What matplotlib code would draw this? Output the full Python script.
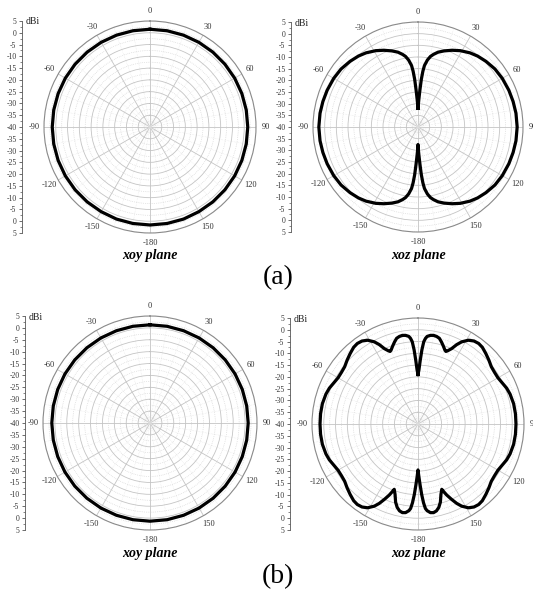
import numpy as np
import matplotlib
matplotlib.use("Agg")
from matplotlib import pyplot as plt
from matplotlib.ticker import MultipleLocator, FixedLocator

plt.rcParams["font.family"] = ["Liberation Serif", "DejaVu Serif"]

W, H = 533, 591

theta_ticks = [0, 30, 60, 90, 120, 150, 180, 210, 240, 270, 300, 330]
theta_labels = ["0", "30", "60", "90", "120", "150", "-180",
                "-150", "-120", "-90", "-60", "-30"]

# xoy plane, (a) and (b): gain in dBi every 10 degrees, 0..360
xoy_deg = list(range(0, 361, 10))
xoy_a_gain = [1.5, 1.5, 1.5, 1.5, 1.5, 1.5, 1.5, 1.5, 1.5, 1.5,
              1.5, 1.5, 1.5, 1.5, 1.5, 1.5, 1.6, 1.6, 1.6, 1.6,
              1.6, 1.5, 1.5, 1.5, 1.5, 1.5, 1.5, 1.5, 1.5, 1.5,
              1.5, 1.5, 1.5, 1.5, 1.5, 1.5, 1.5]
xoy_b_gain = [1.3, 1.3, 1.3, 1.3, 1.3, 1.3, 1.3, 1.3, 1.3, 1.3,
              1.3, 1.3, 1.3, 1.3, 1.3, 1.3, 1.3, 1.3, 1.3, 1.3,
              1.3, 1.3, 1.3, 1.3, 1.3, 1.3, 1.3, 1.3, 1.3, 1.3,
              1.3, 1.3, 1.3, 1.3, 1.3, 1.3, 1.3]

# xoz plane (a): right half 0..180 deg, left half is the mirror
xoz_a_deg = [0, 1, 2, 3, 4, 5, 6, 8, 10, 12, 15, 19, 24, 29, 35, 40, 46, 53,
             60, 68, 75, 82, 90, 98, 105, 112, 120, 127, 134, 140, 145, 151,
             156, 161, 165, 168, 170, 172, 174, 175, 176, 177, 178, 179, 180]
xoz_a_gain = [-32, -30, -27.5, -24, -19.5, -16, -13.5, -11, -9.3, -8.2, -6.8,
              -5.5, -4, -2.6, -1.2, -0.3, 0.5, 1.3, 1.7, 2.0, 2.2, 2.4, 2.5,
              2.4, 2.2, 2.0, 1.7, 1.3, 0.5, -0.3, -1.2, -2.6, -4, -5.5, -6.8,
              -8.2, -9.3, -11, -13.5, -16, -19.5, -24, -27.5, -30, -32.5]

# xoz plane (b): right half 0..180 deg, left half is the mirror
xoz_b_deg = [0, 1, 2, 3, 4, 5, 6, 8, 10, 12, 14, 16, 18, 20, 21, 22, 24, 26,
             28, 31, 34, 37, 40, 44, 48, 52, 56, 60, 64, 68, 72, 78, 84, 90,
             96, 102, 108, 112, 116, 120, 124, 128, 132, 136, 140, 143, 146,
             149, 152, 154, 156, 158, 159, 160, 162, 164, 166, 168, 170, 172,
             174, 175, 176, 177, 178, 179, 180]
xoz_b_gain = [-19, -17, -13, -8.5, -5, -3.5, -2.6, -2, -1.8, -2, -2.5, -3.8,
              -5.2, -6.6, -7, -6.5, -5, -2.5, -0.5, 1.5, 2.5, 2.8, 2.5, 1.5,
              0.5, -0.5, -0.8, -0.8, -0.2, 0.6, 1.1, 1.5, 1.6, 1.6,
              1.6, 1.5, 1.1, 0.6, -0.2, -0.8, -0.8, -0.5, 0.5, 1.5, 2.5, 2.8,
              2.5, 1.5, -0.5, -2.5, -5, -7.5, -9, -10.5, -8.5, -5.5, -3.5,
              -2.3, -1.8, -2, -3, -4, -6.5, -10, -14, -17.5, -20.5]


def mirror(deg, gain):
    deg = np.asarray(deg, dtype=float)
    gain = np.asarray(gain, dtype=float)
    th = np.r_[deg, -deg[::-1]]
    return np.deg2rad(th), np.r_[gain, gain[::-1]]


def polar_panel(fig, cx, cy, R, theta, gain, title, title_y, sx):
    ax = fig.add_axes([(cx - R) / W, 1 - (cy + R) / H, 2 * R / W, 2 * R / H],
                      projection="polar")
    ax.set_theta_zero_location("N")
    ax.set_theta_direction(-1)
    ax.set_ylim(-40, 5)
    ax.set_yticks(np.arange(-35, 5, 5))
    ax.yaxis.set_minor_locator(MultipleLocator(2.5))
    ax.set_yticklabels([])
    ax.set_xticks(np.deg2rad(theta_ticks))
    ax.set_xticklabels(theta_labels)
    ax.xaxis.set_minor_locator(FixedLocator(np.deg2rad(np.arange(0, 360, 10))))
    ax.tick_params(axis="x", which="both", length=0, labelsize=6, pad=0,
                   colors="#333333")
    ax.tick_params(axis="y", which="both", length=0)
    ax.grid(True, which="major", color="#c4c4c4", linewidth=0.6, linestyle="-")
    ax.grid(True, which="minor", axis="y", color="#d0d0d0", linewidth=0.5, linestyle=":")
    ax.grid(True, which="minor", axis="x", color="#e2e2e2", linewidth=0.4, linestyle=":")
    ax.spines["polar"].set_color("#8a8a8a")
    ax.spines["polar"].set_linewidth(0.8)
    ax.plot(theta, gain, color="black", linewidth=2.3, solid_joinstyle="round")

    fig.text(cx / W, 1 - title_y / H, title, ha="center", va="center",
             fontsize=10, fontweight="bold", fontstyle="italic")

    # dBi scale on the left of each polar plot
    sa = fig.add_axes([sx / W, 1 - (cy + R) / H, 0.001, 2 * R / H])
    sa.set_ylim(-45, 45)
    major = np.arange(-45, 46, 5)
    sa.set_yticks(major)
    sa.set_yticklabels([f"{abs(v) - 40:g}" for v in major])
    sa.yaxis.set_minor_locator(MultipleLocator(2.5))
    sa.set_xticks([])
    for s in ["top", "right", "bottom"]:
        sa.spines[s].set_visible(False)
    sa.spines["left"].set_color("#555555")
    sa.spines["left"].set_linewidth(0.6)
    sa.tick_params(axis="y", which="major", length=2.5, width=0.5,
                   labelsize=5.5, pad=1.5, colors="#333333")
    sa.tick_params(axis="y", which="minor", length=1.5, width=0.5,
                   colors="#555555")
    fig.text((sx + 4) / W, 1 - (cy - R + 1) / H, "dBi", fontsize=7,
             ha="left", va="center", color="#222222")
    return ax


fig = plt.figure(figsize=(W / 100, H / 100), dpi=100)

xoy_th = np.deg2rad(xoy_deg)
th_a, g_a = mirror(xoz_a_deg, xoz_a_gain)
th_b, g_b = mirror(xoz_b_deg, xoz_b_gain)

polar_panel(fig, 150, 127, 106, xoy_th, xoy_a_gain, "xoy plane", 256, 22)
polar_panel(fig, 418, 127, 105, th_a, g_a, "xoz plane", 256, 291)
polar_panel(fig, 150, 423, 107, xoy_th, xoy_b_gain, "xoy plane", 553, 25)
polar_panel(fig, 418, 424, 106, th_b, g_b, "xoz plane", 553, 290)

fig.text(278 / W, 1 - 278 / H, "(a)", fontsize=20, ha="center", va="center")
fig.text(278 / W, 1 - 577 / H, "(b)", fontsize=20, ha="center", va="center")

fig.savefig("out.png", dpi=100, facecolor="white")
